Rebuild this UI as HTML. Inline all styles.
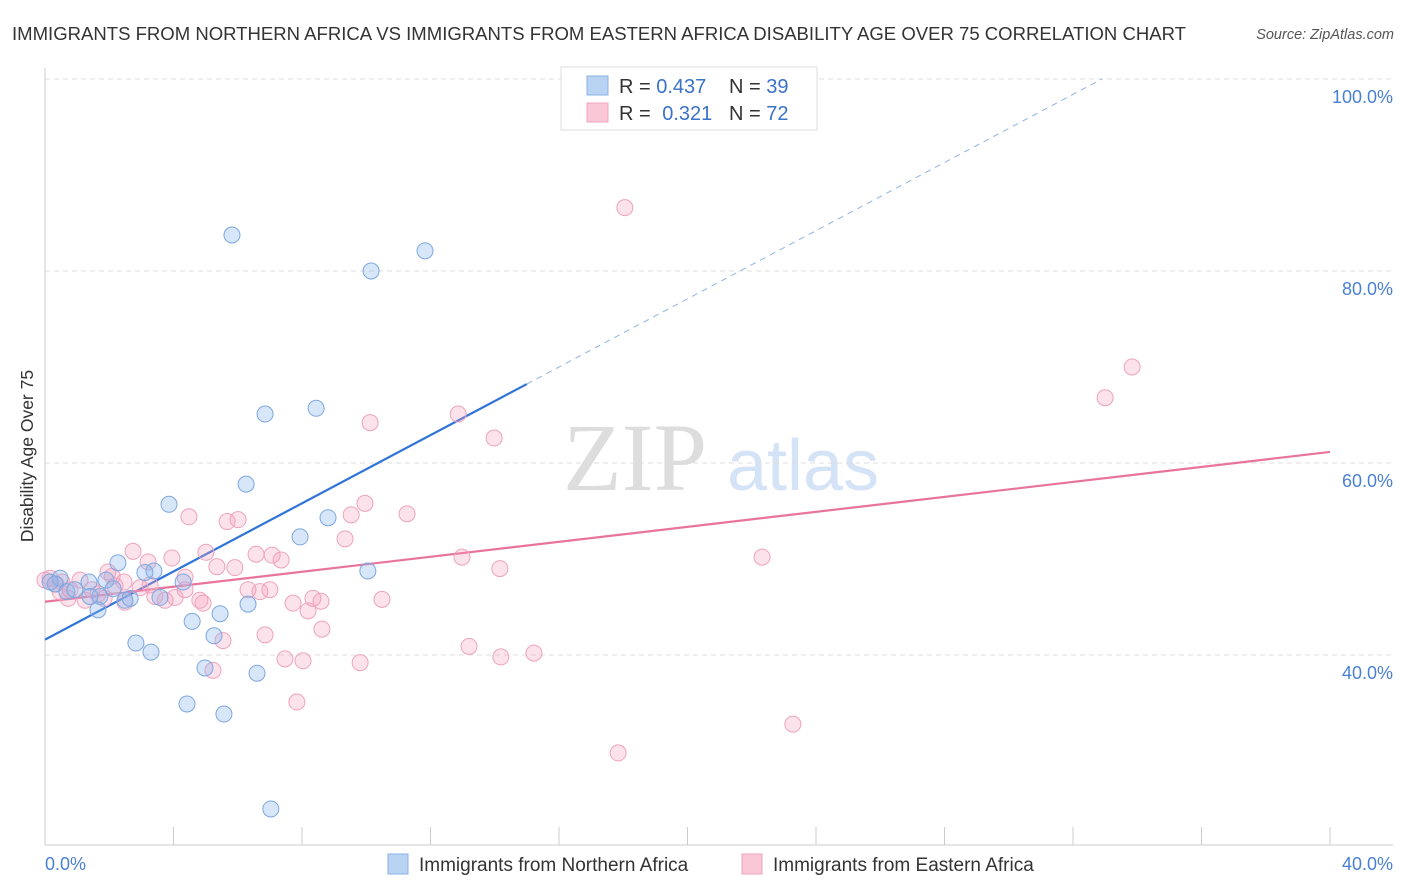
<!DOCTYPE html>
<html><head><meta charset="utf-8">
<style>
body{margin:0;background:#fff;font-family:"Liberation Sans",sans-serif;}
svg{display:block}
</style></head>
<body>
<svg id="chart" width="1406" height="892" viewBox="0 0 1406 892" xmlns="http://www.w3.org/2000/svg">
<text x="12" y="40" font-size="18" fill="#333" textLength="1174" lengthAdjust="spacingAndGlyphs">IMMIGRANTS FROM NORTHERN AFRICA VS IMMIGRANTS FROM EASTERN AFRICA DISABILITY AGE OVER 75 CORRELATION CHART</text>
<text x="1394" y="39" font-size="14.5" fill="#555" font-style="italic" text-anchor="end">Source: ZipAtlas.com</text>
<g>
<text x="635" y="490" font-size="96" fill="#ddd" font-family="Liberation Serif,serif" text-anchor="middle">ZIP</text>
<text x="803" y="490" font-size="72" fill="#d4e3f6" text-anchor="middle">atlas</text>
</g>
<g id="grid"></g>
<g id="axes"></g>
<g id="lines"></g>
<g id="points"></g>
<text transform="translate(33,456) rotate(-90)" font-size="17.5" fill="#333" text-anchor="middle">Disability Age Over 75</text>
<g>
<rect x="561" y="67" width="256" height="63" fill="#fff" stroke="#ddd"/>
<rect x="587" y="76" width="21" height="19" fill="#b9d3f5" stroke="#8bb1e6"/>
<rect x="587" y="103" width="21" height="19" fill="#f9c7d6" stroke="#f0a6bf"/>
<text x="619" y="93" font-size="20" fill="#333">R = <tspan fill="#3a72c8">0.437</tspan></text>
<text x="729" y="93" font-size="20" fill="#333">N = <tspan fill="#3a72c8">39</tspan></text>
<text x="619" y="120" font-size="20" fill="#333">R = <tspan fill="#3a72c8" dx="6">0.321</tspan></text>
<text x="729" y="120" font-size="20" fill="#333">N = <tspan fill="#3a72c8">72</tspan></text>
</g>
<g>
<rect x="388" y="854" width="20" height="20" fill="#b9d3f5" stroke="#8bb1e6"/>
<text x="419" y="871" font-size="19" fill="#333">Immigrants from Northern Africa</text>
<rect x="742" y="854" width="20" height="20" fill="#f9c7d6" stroke="#f0a6bf"/>
<text x="773" y="871" font-size="19" fill="#333">Immigrants from Eastern Africa</text>
</g>
</svg>
<script>
const blueX=[5.82,10.15,11.83,6.85,8.44,6.26,3.86,8.81,7.94,10.05,2.27,3.39,4.30,1.90,1.37,0.47,0.31,0.68,0.93,1.71,2.49,2.65,3.58,6.32,5.45,4.58,1.65,2.83,3.30,5.26,4.98,6.60,4.42,5.57,7.03,0.16,2.12,3.11,1.40];
const blueY=[83.75,80.0,82.1,65.1,65.7,57.8,55.7,54.3,52.3,48.75,49.6,48.75,47.6,47.8,47.6,48.0,47.4,46.6,46.8,46.1,45.7,45.9,46.0,45.3,44.3,43.5,44.7,41.25,40.3,42.0,38.65,38.1,34.9,33.85,23.96,47.6,46.9,48.6,46.1];
const pinkX=[18.05,33.84,33.0,10.12,12.86,13.98,9.96,11.27,9.53,4.48,6.01,5.67,9.34,2.74,5.01,6.57,7.07,7.35,12.98,22.32,3.21,3.95,5.35,5.91,14.16,1.96,4.36,2.46,1.09,0.53,0.16,0.78,1.46,2.18,1.65,2.96,3.42,4.05,3.74,6.32,6.69,4.92,7.72,8.34,8.59,10.49,8.19,2.49,0.72,8.62,6.85,5.54,13.2,15.22,14.19,7.47,8.03,9.81,5.23,7.84,23.28,17.84,0.34,0.0,1.25,1.84,4.82,4.36,3.27,2.09,0.47,7.0];
const pinkY=[86.6,70.0,66.8,64.2,65.1,62.6,55.8,54.7,54.6,54.4,54.1,53.9,52.1,50.8,50.7,50.5,50.4,49.9,50.2,50.2,49.7,50.1,49.2,49.1,49.0,48.65,48.1,47.6,47.8,47.6,48.0,46.8,46.8,47.2,46.35,47.0,46.1,46.0,45.7,46.8,46.6,45.4,45.4,45.9,45.6,45.8,44.6,45.5,45.9,42.7,42.1,41.5,40.9,40.2,39.8,39.6,39.4,39.2,38.4,35.1,32.8,29.8,47.4,47.8,45.7,45.9,45.7,46.8,47.3,48.2,46.6,46.8];
const yTicks=[40,60,80,100];
const yTickLabels=["40.0%","60.0%","80.0%","100.0%"];
const xTicks=[0,4,8,12,16,20,24,28,32,36,40];
const blueTrend=[41.6,1.775];
const pinkTrend=[45.55,0.39];
const NS="http://www.w3.org/2000/svg";
const X=v=>45+v*32.125, Y=v=>79+(100-v)*9.6;
function mk(tag,attrs,parent){const e=document.createElementNS(NS,tag);for(const k in attrs)e.setAttribute(k,attrs[k]);document.getElementById(parent).appendChild(e);return e;}
yTicks.forEach((t,i)=>{
 const g=mk('line',{x1:45,x2:1393,y1:Y(t),y2:Y(t),stroke:'#ddd','stroke-dasharray':'5,4'},'grid');
 
 
 const l=mk('text',{x:1393,y:Y(t)+24,'font-size':18,fill:'#4a80d4','text-anchor':'end'},'grid');
 l.textContent=yTickLabels[i];
 
 
});
const ya=mk('line',{x1:45,x2:45,y1:68,y2:845,stroke:'#ccc'},'axes');


const xa=mk('line',{x1:45,x2:1393,y1:845,y2:845,stroke:'#ccc'},'axes');


xTicks.forEach(t=>{
 const k=mk('line',{x1:X(t),x2:X(t),y1:827,y2:845,stroke:'#ccc'},'axes');
 
 
});
const x0=mk('text',{x:45,y:870,'font-size':18,fill:'#4a80d4'},'axes');x0.textContent='0.0%';


const x1=mk('text',{x:1393,y:870,'font-size':18,fill:'#4a80d4','text-anchor':'end'},'axes');x1.textContent='40.0%';


function pts(xs,ys,fill,stroke,name){xs.forEach((x,i)=>{
 const c=mk('circle',{cx:X(x),cy:Y(ys[i]),r:8,fill:fill,stroke:stroke,'stroke-width':1},'points');
 
 
});}
pts(pinkX,pinkY,'rgba(244,160,190,0.3)','#eea3bd','point-eastern-africa');
pts(blueX,blueY,'rgba(140,182,238,0.35)','#7ea7df','point-northern-africa');
const bEnd=15, bDash=(100-blueTrend[0])/blueTrend[1];
const bl=mk('line',{x1:X(0),y1:Y(blueTrend[0]),x2:X(bEnd),y2:Y(blueTrend[0]+blueTrend[1]*bEnd),stroke:'#2f74d6','stroke-width':2.2},'lines');


const bd=mk('line',{x1:X(bEnd),y1:Y(blueTrend[0]+blueTrend[1]*bEnd),x2:X(bDash),y2:Y(100),stroke:'#8fb3e6','stroke-width':1,'stroke-dasharray':'6,5'},'lines');


const pl=mk('line',{x1:X(0),y1:Y(pinkTrend[0]),x2:X(40),y2:Y(pinkTrend[0]+pinkTrend[1]*40),stroke:'#e8739c','stroke-width':2.2},'lines');


</script>
</body></html>
